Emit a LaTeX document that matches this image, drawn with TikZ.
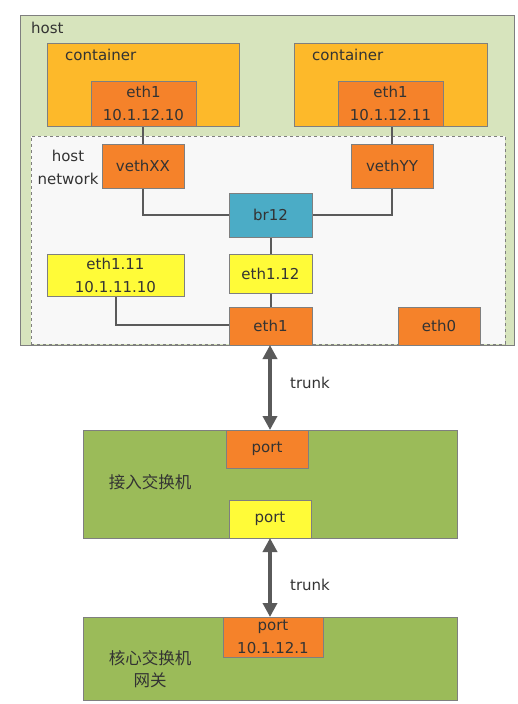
\documentclass[tikz,border=0pt]{standalone}
\usepackage{fontspec}
\setmainfont{DejaVu Sans}
\newfontfamily\cjk{Noto Sans CJK SC}
\usetikzlibrary{arrows.meta}
\definecolor{hostgreen}{HTML}{D7E4BD}
\definecolor{contyel}{HTML}{FDB92A}
\definecolor{ifor}{HTML}{F5822A}
\definecolor{brblue}{HTML}{4BACC6}
\definecolor{vyel}{HTML}{FFFB38}
\definecolor{swgreen}{HTML}{9BBB59}
\definecolor{netgray}{HTML}{F8F8F8}
\definecolor{linegray}{HTML}{5A5A5A}
\definecolor{bordgray}{HTML}{7F7F7F}
\definecolor{txt}{HTML}{333333}
\begin{document}
\begin{tikzpicture}[x=1pt,y=-1pt,
  every node/.style={text=txt,font=\fontsize{15}{23}\selectfont},
  box/.style={draw=bordgray,line width=0.8pt,inner sep=0pt,align=center},
  orangebox/.style={box,fill=ifor},
  yelbox/.style={box,fill=vyel},
  conn/.style={draw=linegray,line width=2pt},
  trunkarrow/.style={draw=linegray,line width=4pt,{Triangle[width=14pt,length=14pt]}-{Triangle[width=14pt,length=14pt]}},
  lbl/.style={inner sep=0pt}
]
\useasboundingbox (0,0) rectangle (518,704);
\fill[white] (0,0) rectangle (518,704);
% host
\node[box,fill=hostgreen,minimum width=494pt,minimum height=330pt] (host) at (267,180) {};
\node[lbl,anchor=west] (hostlbl) at (31,28) {host};
% containers
\node[box,fill=contyel,minimum width=192pt,minimum height=83pt] (cont1) at (143,84.5) {};
\node[lbl,anchor=west] (cont1lbl) at (65,55) {container};
\node[box,fill=contyel,minimum width=193pt,minimum height=83pt] (cont2) at (390.5,84.5) {};
\node[lbl,anchor=west] (cont2lbl) at (312,55) {container};
% host network
\node[draw=bordgray,dashed,line width=0.8pt,fill=netgray,minimum width=474pt,minimum height=208pt,inner sep=0pt] (hostnet) at (268,240) {};
\node[lbl,align=center] (hostnetlbl) at (68,167) {host\\network};
% connectors
\draw[conn] (143,126) -- (143,144);
\draw[conn] (392,126) -- (392,144);
\coordinate (bx) at (270.5,215);
\draw[conn] (143,188) |- (bx);
\draw[conn] (392,188) |- (bx);
\draw[conn] (270.5,215) -- (270.5,326);
\draw[conn] (116,296) |- (270.5,325);
% interface boxes
\node[orangebox,minimum width=105pt,minimum height=45pt] (c1eth) at (143.5,103.5) {eth1\\10.1.12.10};
\node[orangebox,minimum width=105pt,minimum height=45pt] (c2eth) at (390.5,103.5) {eth1\\10.1.12.11};
\node[orangebox,minimum width=82pt,minimum height=44pt] (vethXX) at (143,166) {vethXX};
\node[orangebox,minimum width=82pt,minimum height=44pt] (vethYY) at (392,166) {vethYY};
\node[box,fill=brblue,minimum width=83pt,minimum height=44pt] (br12) at (270.5,215) {br12};
\node[yelbox,minimum width=137pt,minimum height=42pt] (eth111) at (115.5,275) {eth1.11\\10.1.11.10};
\node[yelbox,minimum width=83pt,minimum height=39pt] (eth112) at (270.5,273.5) {eth1.12};
\node[orangebox,minimum width=83pt,minimum height=38pt] (eth1) at (270.5,326) {eth1};
\node[orangebox,minimum width=82pt,minimum height=38pt] (eth0) at (439,326) {eth0};
% access switch
\node[box,fill=swgreen,minimum width=374pt,minimum height=108pt] (sw1) at (270,484) {};
\node[orangebox,minimum width=82pt,minimum height=38pt] (port1) at (267,449) {port};
\node[yelbox,minimum width=82pt,minimum height=38pt] (port2) at (270,519) {port};
\node[lbl] (sw1lbl) at (150,482) {\cjk\fontsize{16.5}{22}\selectfont 接入交换机};
% core switch
\node[box,fill=swgreen,minimum width=374pt,minimum height=83pt] (sw2) at (270,658.5) {};
\node[orangebox,minimum width=100pt,minimum height=40pt] (port3) at (273,637) {port\\10.1.12.1};
\node[lbl,align=center,font=\cjk\fontsize{16.5}{22}\selectfont] (sw2lbl) at (150,669) {核心交换机\\网关};
% trunks
\coordinate (t1a) at (270,345);
\coordinate (t1b) at (270,430);
\draw[trunkarrow] (t1a) -- (t1b);
\node[lbl] (trunk1) at (310,383) {trunk};
\coordinate (t2a) at (270,538);
\coordinate (t2b) at (270,617);
\draw[trunkarrow] (t2a) -- (t2b);
\node[lbl] (trunk2) at (310,585) {trunk};
\end{tikzpicture}
\end{document}
